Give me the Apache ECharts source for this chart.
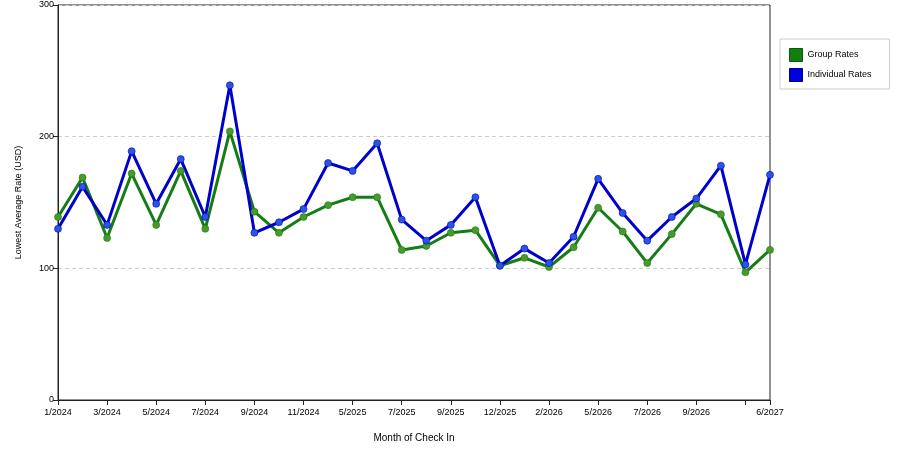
<!DOCTYPE html>
<html>
<head>
<meta charset="utf-8">
<script src="https://cdn.jsdelivr.net/npm/echarts@6/dist/echarts.min.js"></script>
<style>html,body{margin:0;padding:0;background:#fff;}#c{width:900px;height:450px;}</style>
</head>
<body>
<div id="c"></div>
<script>
const categories = ["1/2024","2/2024","3/2024","4/2024","5/2024","6/2024","7/2024","8/2024","9/2024","10/2024","11/2024","12/2024","5/2025","6/2025","7/2025","8/2025","9/2025","10/2025","12/2025","1/2026","2/2026","3/2026","5/2026","6/2026","7/2026","8/2026","9/2026","10/2026","5/2027","6/2027"];
const groupRates = [139,169,123,172,133,174,130,204,143,127,139,148,154,154,114,117,127,129,102,108,101,116,146,128,104,126,149,141,97,114];
const individualRates = [130,162,133,189,149,183,139,239,127,135,145,180,174,195,137,121,133,154,102,115,104,124,168,142,121,139,153,178,103,171];
const yTicks = [0,100,200,300];

const chart = echarts.init(document.getElementById('c'));
const font = 'Liberation Sans, Arial, sans-serif';
const lastIdx = categories.length - 1;
chart.setOption({
  animation: false,
  backgroundColor: '#fff',
  grid: { left: 58, right: 130, top: 5, bottom: 50, show: true, borderColor: '#222', borderWidth: 1, containLabel: false },
  legend: {
    orient: 'vertical', left: 780, top: 39,
    padding: [9, 18, 7, 9], itemGap: 6, itemWidth: 13, itemHeight: 13,
    borderColor: '#ccc', borderWidth: 1,
    icon: 'rect',
    textStyle: { fontFamily: font, fontSize: 9, color: '#000' },
    data: [
      { name: 'Group Rates', itemStyle: { color: '#108010', borderColor: '#0a5a0a', borderWidth: 1 } },
      { name: 'Individual Rates', itemStyle: { color: '#0000dd', borderColor: '#00008a', borderWidth: 1 } }
    ]
  },
  xAxis: {
    type: 'category', data: categories, boundaryGap: false,
    name: 'Month of Check In', nameLocation: 'middle', nameGap: 33,
    nameTextStyle: { fontFamily: font, fontSize: 10, color: '#000' },
    axisLine: { lineStyle: { color: '#222', width: 1 } },
    axisTick: { show: true, length: 5, lineStyle: { color: '#222' }, interval: (i) => i % 2 === 0 || i === lastIdx },
    axisLabel: { fontFamily: font, fontSize: 9, color: '#000', margin: 8,
      interval: (i) => (i % 2 === 0 && i !== lastIdx - 1) || i === lastIdx },
    splitLine: { show: false }
  },
  yAxis: {
    type: 'value', min: yTicks[0], max: yTicks[yTicks.length - 1], interval: 100,
    name: 'Lowest Average Rate (USD)', nameLocation: 'middle', nameGap: 35,
    nameTextStyle: { fontFamily: font, fontSize: 9, color: '#000' },
    axisLine: { show: true, lineStyle: { color: '#222', width: 1 } },
    axisTick: { show: true, length: 5, lineStyle: { color: '#222' } },
    axisLabel: { fontFamily: font, fontSize: 9, color: '#000', margin: 4 },
    splitLine: { show: true, lineStyle: { color: '#ccc', type: [4, 3], width: 1 } }
  },
  series: [
    {
      name: 'Group Rates', type: 'line', data: groupRates,
      symbol: 'circle', symbolSize: 7, showSymbol: true,
      lineStyle: { color: '#167d16', width: 3 },
      itemStyle: { color: '#4a9a2a', borderColor: 'rgba(22,125,22,0.6)', borderWidth: 1 }
    },
    {
      name: 'Individual Rates', type: 'line', data: individualRates,
      symbol: 'circle', symbolSize: 7, showSymbol: true,
      lineStyle: { color: '#0000cc', width: 3 },
      itemStyle: { color: '#2a55e0', borderColor: 'rgba(0,0,204,0.6)', borderWidth: 1 }
    }
  ],
  color: ['#167d16', '#0000cc']
});
</script>
</body>
</html>
